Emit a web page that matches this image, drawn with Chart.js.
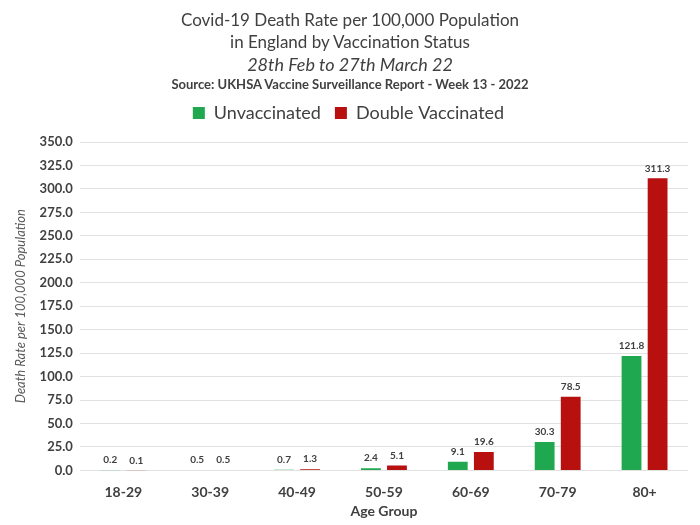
<!DOCTYPE html>
<html>
<head>
<meta charset="utf-8">
<script src="https://cdn.jsdelivr.net/npm/chart.js@4"></script>
<style>
  html, body { margin: 0; padding: 0; background: #fff; }
  #wrap { position: relative; width: 700px; height: 525px; font-family: Lato, "Open Sans", sans-serif; color: #404040; }
  #titles { position: absolute; left: 0; top: 0; width: 700px; text-align: center; }
  #titles div { white-space: nowrap; }
  .t1 { font-size: 17px; line-height: 22px; }
  .t2 { font-size: 18px; line-height: 22px; font-style: italic; }
  .t3 { font-size: 13px; line-height: 19px; font-weight: bold; }
  #chart { position: absolute; left: 0; top: 0; }
</style>
</head>
<body>
<div id="wrap">
  <canvas id="chart" width="700" height="525"></canvas>
  <div id="titles">
    <div class="t1" style="margin-top:9px">Covid-19 Death Rate per 100,000 Population</div>
    <div class="t1">in England by Vaccination Status</div>
    <div class="t2">28th Feb to 27th March 22</div>
    <div class="t3">Source: UKHSA Vaccine Surveillance Report - Week 13 - 2022</div>
  </div>
</div>
<script>
// data
const ageGroups = ['18-29', '30-39', '40-49', '50-59', '60-69', '70-79', '80+'];
const unvaccinated = [0.2, 0.5, 0.7, 2.4, 9.1, 30.3, 121.8];
const doubleVaccinated = [0.1, 0.5, 1.3, 5.1, 19.6, 78.5, 311.3];
const seriesNames = ['Unvaccinated', 'Double Vaccinated'];

const textColor = '#404040';

// draws the value above each bar
const valueLabels = {
  id: 'valueLabels',
  afterDatasetsDraw(chart) {
    const ctx = chart.ctx;
    ctx.save();
    ctx.font = 'bold 10px Lato, sans-serif';
    ctx.fillStyle = textColor;
    ctx.textAlign = 'center';
    ctx.textBaseline = 'bottom';
    chart.data.datasets.forEach((ds, i) => {
      chart.getDatasetMeta(i).data.forEach((bar, j) => {
        ctx.fillText(ds.data[j].toFixed(1), bar.x, bar.y - 5);
      });
    });
    ctx.restore();
  }
};

// a bit more room between legend and plot
const legendGap = {
  id: 'legendGap',
  beforeInit(chart) {
    const fit = chart.legend.fit;
    chart.legend.fit = function () {
      fit.bind(chart.legend)();
      this.height += 10;
    };
  }
};

new Chart(document.getElementById('chart'), {
  type: 'bar',
  data: {
    labels: ageGroups,
    datasets: [
      { label: seriesNames[0], data: unvaccinated, backgroundColor: '#1fa84f' },
      { label: seriesNames[1], data: doubleVaccinated, backgroundColor: '#b80f0f' }
    ]
  },
  options: {
    responsive: false,
    animation: false,
    layout: { padding: { top: 90, left: 9, right: 12, bottom: 5 } },
    datasets: { bar: { categoryPercentage: 0.6, barPercentage: 0.76 } },
    plugins: {
      legend: {
        position: 'top',
        labels: {
          color: textColor,
          font: { family: 'Lato', size: 18 },
          boxWidth: 12,
          boxHeight: 12,
          padding: 14
        }
      },
      tooltip: { enabled: false }
    },
    scales: {
      x: {
        grid: { display: false },
        border: { display: false },
        ticks: { color: textColor, font: { family: 'Lato', size: 14, weight: 'bold' }, padding: 6 },
        title: { display: true, text: 'Age Group', color: textColor, font: { family: 'Lato', size: 14, weight: 'bold' }, padding: { top: -4, bottom: 0 } }
      },
      y: {
        min: 0,
        max: 350,
        ticks: {
          stepSize: 25,
          color: textColor,
          font: { family: 'Lato', size: 13, weight: 'bold' },
          padding: 7,
          callback: v => v.toFixed(1)
        },
        grid: { color: '#e2e2e2', drawTicks: false },
        border: { display: false },
        title: { display: true, text: 'Death Rate per 100,000 Population', color: '#595959', font: { family: 'Lato', size: 13, style: 'italic' }, padding: { bottom: 4 } }
      }
    }
  },
  plugins: [valueLabels, legendGap]
});
</script>
</body>
</html>
